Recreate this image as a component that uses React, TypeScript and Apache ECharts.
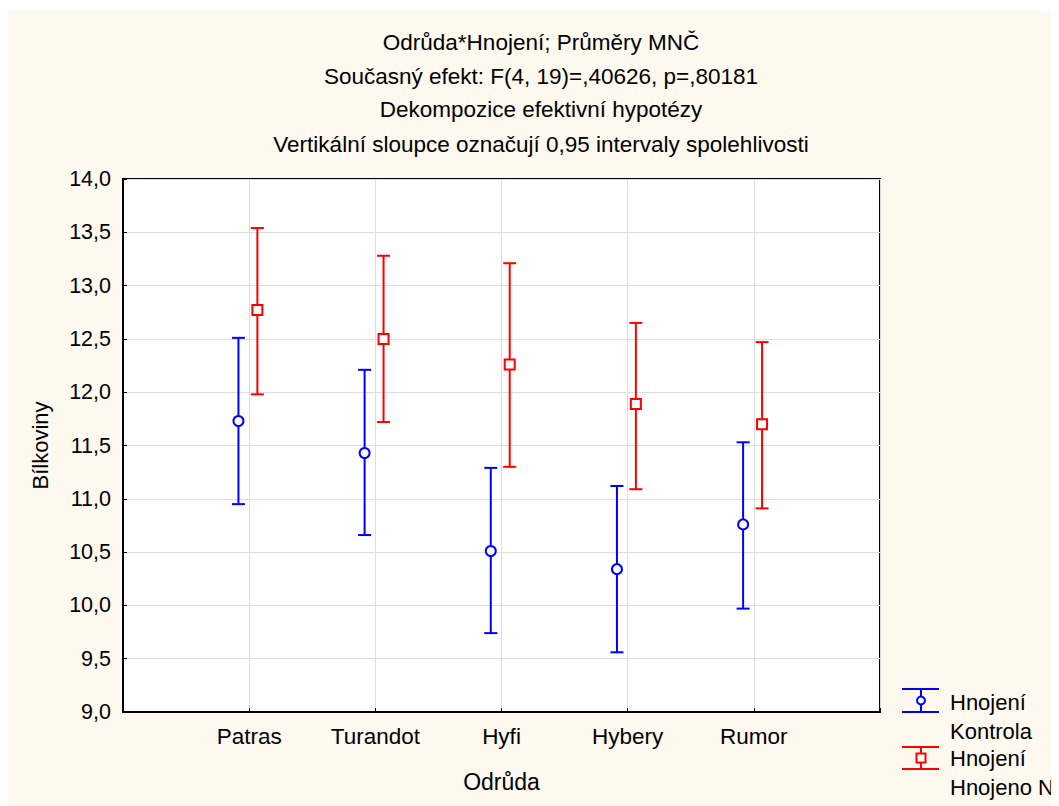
import React, { useEffect, useRef } from 'react';
import * as echarts from 'echarts';

const categories = ['Patras', 'Turandot', 'Hyfi', 'Hybery', 'Rumor'];
const kontrolaMean = [11.73, 11.43, 10.51, 10.34, 10.76];
const kontrolaLower = [10.95, 10.66, 9.74, 9.56, 9.97];
const kontrolaUpper = [12.51, 12.21, 11.29, 11.12, 11.53];
const hnojenoMean = [12.77, 12.5, 12.26, 11.89, 11.7];
const hnojenoLower = [11.98, 11.72, 11.3, 11.09, 10.91];
const hnojenoUpper = [13.54, 13.28, 13.21, 12.65, 12.47];
const titleLines = [
  'Odrůda*Hnojení; Průměry MNČ',
  'Současný efekt: F(4, 19)=,40626, p=,80181',
  'Dekompozice efektivní hypotézy',
  'Vertikální sloupce označují 0,95 intervaly spolehlivosti',
];
const legendKontrola = ['Hnojení', 'Kontrola'];
const legendHnojeno = ['Hnojení', 'Hnojeno N'];

const FONT = '"Liberation Sans", Arial, sans-serif';
const BLUE = '#0000FF';
const RED = '#FF0000';

export default function App() {
  const ref = useRef<HTMLDivElement>(null);
  useEffect(() => {
    const chart = echarts.init(ref.current!, null, { renderer: 'svg' });
    const makeData = (means: number[], lows: number[], ups: number[], offset: number) =>
      means.map((m, i) => [i + 1 + offset, lows[i], m, ups[i]]);

    const renderErr = (color: string, shape: string) => (params: any, api: any) => {
      const x = api.value(0);
      const lo = api.coord([x, api.value(1)]);
      const mid = api.coord([x, api.value(2)]);
      const hi = api.coord([x, api.value(3)]);
      const cx = lo[0];
      const hw = 6.5;
      const ls = { stroke: color, lineWidth: 2 };
      const marker =
        shape === 'circle'
          ? { type: 'circle', shape: { cx, cy: mid[1], r: 5 }, style: { fill: '#fff', stroke: color, lineWidth: 2 } }
          : { type: 'rect', shape: { x: cx - 5, y: mid[1] - 5, width: 10, height: 10 }, style: { fill: '#fff', stroke: color, lineWidth: 2 } };
      return {
        type: 'group',
        children: [
          { type: 'line', shape: { x1: cx, y1: hi[1], x2: cx, y2: lo[1] }, style: ls },
          { type: 'line', shape: { x1: cx - hw, y1: hi[1], x2: cx + hw, y2: hi[1] }, style: ls },
          { type: 'line', shape: { x1: cx - hw, y1: lo[1], x2: cx + hw, y2: lo[1] }, style: ls },
          marker,
        ],
      };
    };

    const textStyle = (text: string, x: number, y: number, align: string, size: number) => ({
      type: 'text',
      x,
      y,
      style: { text, fontFamily: FONT, fontSize: size, fill: '#000', textAlign: align, textVerticalAlign: 'middle' },
    });

    const titleYs = [34, 68, 101, 136];
    const graphic: any[] = [
      { type: 'rect', z: -10, shape: { x: 0, y: 3, width: 1047, height: 800 }, style: { fill: '#FDF9EF' } },
      ...titleLines.map((t, i) => textStyle(t, 533, titleYs[i], 'center', 22.5)),
      // legend Kontrola
      { type: 'line', shape: { x1: 894, y1: 681, x2: 931, y2: 681 }, style: { stroke: BLUE, lineWidth: 2 } },
      { type: 'line', shape: { x1: 894, y1: 704, x2: 931, y2: 704 }, style: { stroke: BLUE, lineWidth: 2 } },
      { type: 'line', shape: { x1: 913, y1: 681, x2: 913, y2: 704 }, style: { stroke: BLUE, lineWidth: 2 } },
      { type: 'circle', shape: { cx: 913, cy: 692.5, r: 4 }, style: { fill: '#fff', stroke: BLUE, lineWidth: 2 } },
      textStyle(legendKontrola[0], 942, 694, 'left', 22),
      textStyle(legendKontrola[1], 942, 723, 'left', 22),
      // legend Hnojeno
      { type: 'line', shape: { x1: 894, y1: 739, x2: 931, y2: 739 }, style: { stroke: RED, lineWidth: 2 } },
      { type: 'line', shape: { x1: 894, y1: 761, x2: 931, y2: 761 }, style: { stroke: RED, lineWidth: 2 } },
      { type: 'line', shape: { x1: 913, y1: 739, x2: 913, y2: 761 }, style: { stroke: RED, lineWidth: 2 } },
      { type: 'rect', shape: { x: 908.5, y: 745.5, width: 9, height: 9 }, style: { fill: '#fff', stroke: RED, lineWidth: 2 } },
      textStyle(legendHnojeno[0], 942, 750, 'left', 22),
      textStyle(legendHnojeno[1], 942, 779, 'left', 22),
    ];

    chart.setOption({
      animation: false,
      backgroundColor: '#ffffff',
      grid: {
        left: 115,
        top: 171,
        width: 757,
        height: 533,
        show: true,
        backgroundColor: '#ffffff',
        borderColor: '#000',
        borderWidth: 2,
      },
      xAxis: {
        type: 'value',
        min: 0,
        max: 6,
        interval: 1,
        name: 'Odrůda',
        nameLocation: 'middle',
        nameGap: 58,
        nameTextStyle: { fontFamily: FONT, fontSize: 23, color: '#000' },
        axisLine: { show: true, lineStyle: { color: '#000', width: 2 } },
        axisTick: { show: true, inside: true, length: 4, lineStyle: { color: '#000', width: 1 } },
        axisLabel: {
          fontFamily: FONT,
          fontSize: 22.5,
          color: '#000',
          margin: 13,
          formatter: (v: number) => (v >= 1 && v <= 5 ? categories[v - 1] : ''),
        },
        splitLine: { show: true, lineStyle: { color: '#DDDDDD', width: 1 } },
      },
      yAxis: {
        type: 'value',
        min: 9,
        max: 14,
        interval: 0.5,
        name: 'Bílkoviny',
        nameLocation: 'middle',
        nameGap: 72,
        nameTextStyle: { fontFamily: FONT, fontSize: 22, color: '#000' },
        axisLine: { show: true, lineStyle: { color: '#000', width: 2 } },
        axisTick: { show: true, inside: true, length: 4, lineStyle: { color: '#000', width: 1 } },
        axisLabel: {
          fontFamily: FONT,
          fontSize: 21.5,
          color: '#000',
          margin: 12,
          formatter: (v: number) => v.toFixed(1).replace('.', ','),
        },
        splitLine: { show: true, lineStyle: { color: '#DDDDDD', width: 1 } },
      },
      graphic,
      series: [
        {
          name: 'Hnojení Kontrola',
          type: 'custom',
          renderItem: renderErr(BLUE, 'circle'),
          encode: { x: 0, y: [1, 2, 3] },
          data: makeData(kontrolaMean, kontrolaLower, kontrolaUpper, -0.085),
          z: 5,
        },
        {
          name: 'Hnojení Hnojeno N',
          type: 'custom',
          renderItem: renderErr(RED, 'rect'),
          encode: { x: 0, y: [1, 2, 3] },
          data: makeData(hnojenoMean, hnojenoLower, hnojenoUpper, 0.065),
          z: 5,
        },
      ],
    });
    return () => chart.dispose();
  }, []);
  return <div ref={ref} style={{ width: 1051, height: 798 }} />;
}
